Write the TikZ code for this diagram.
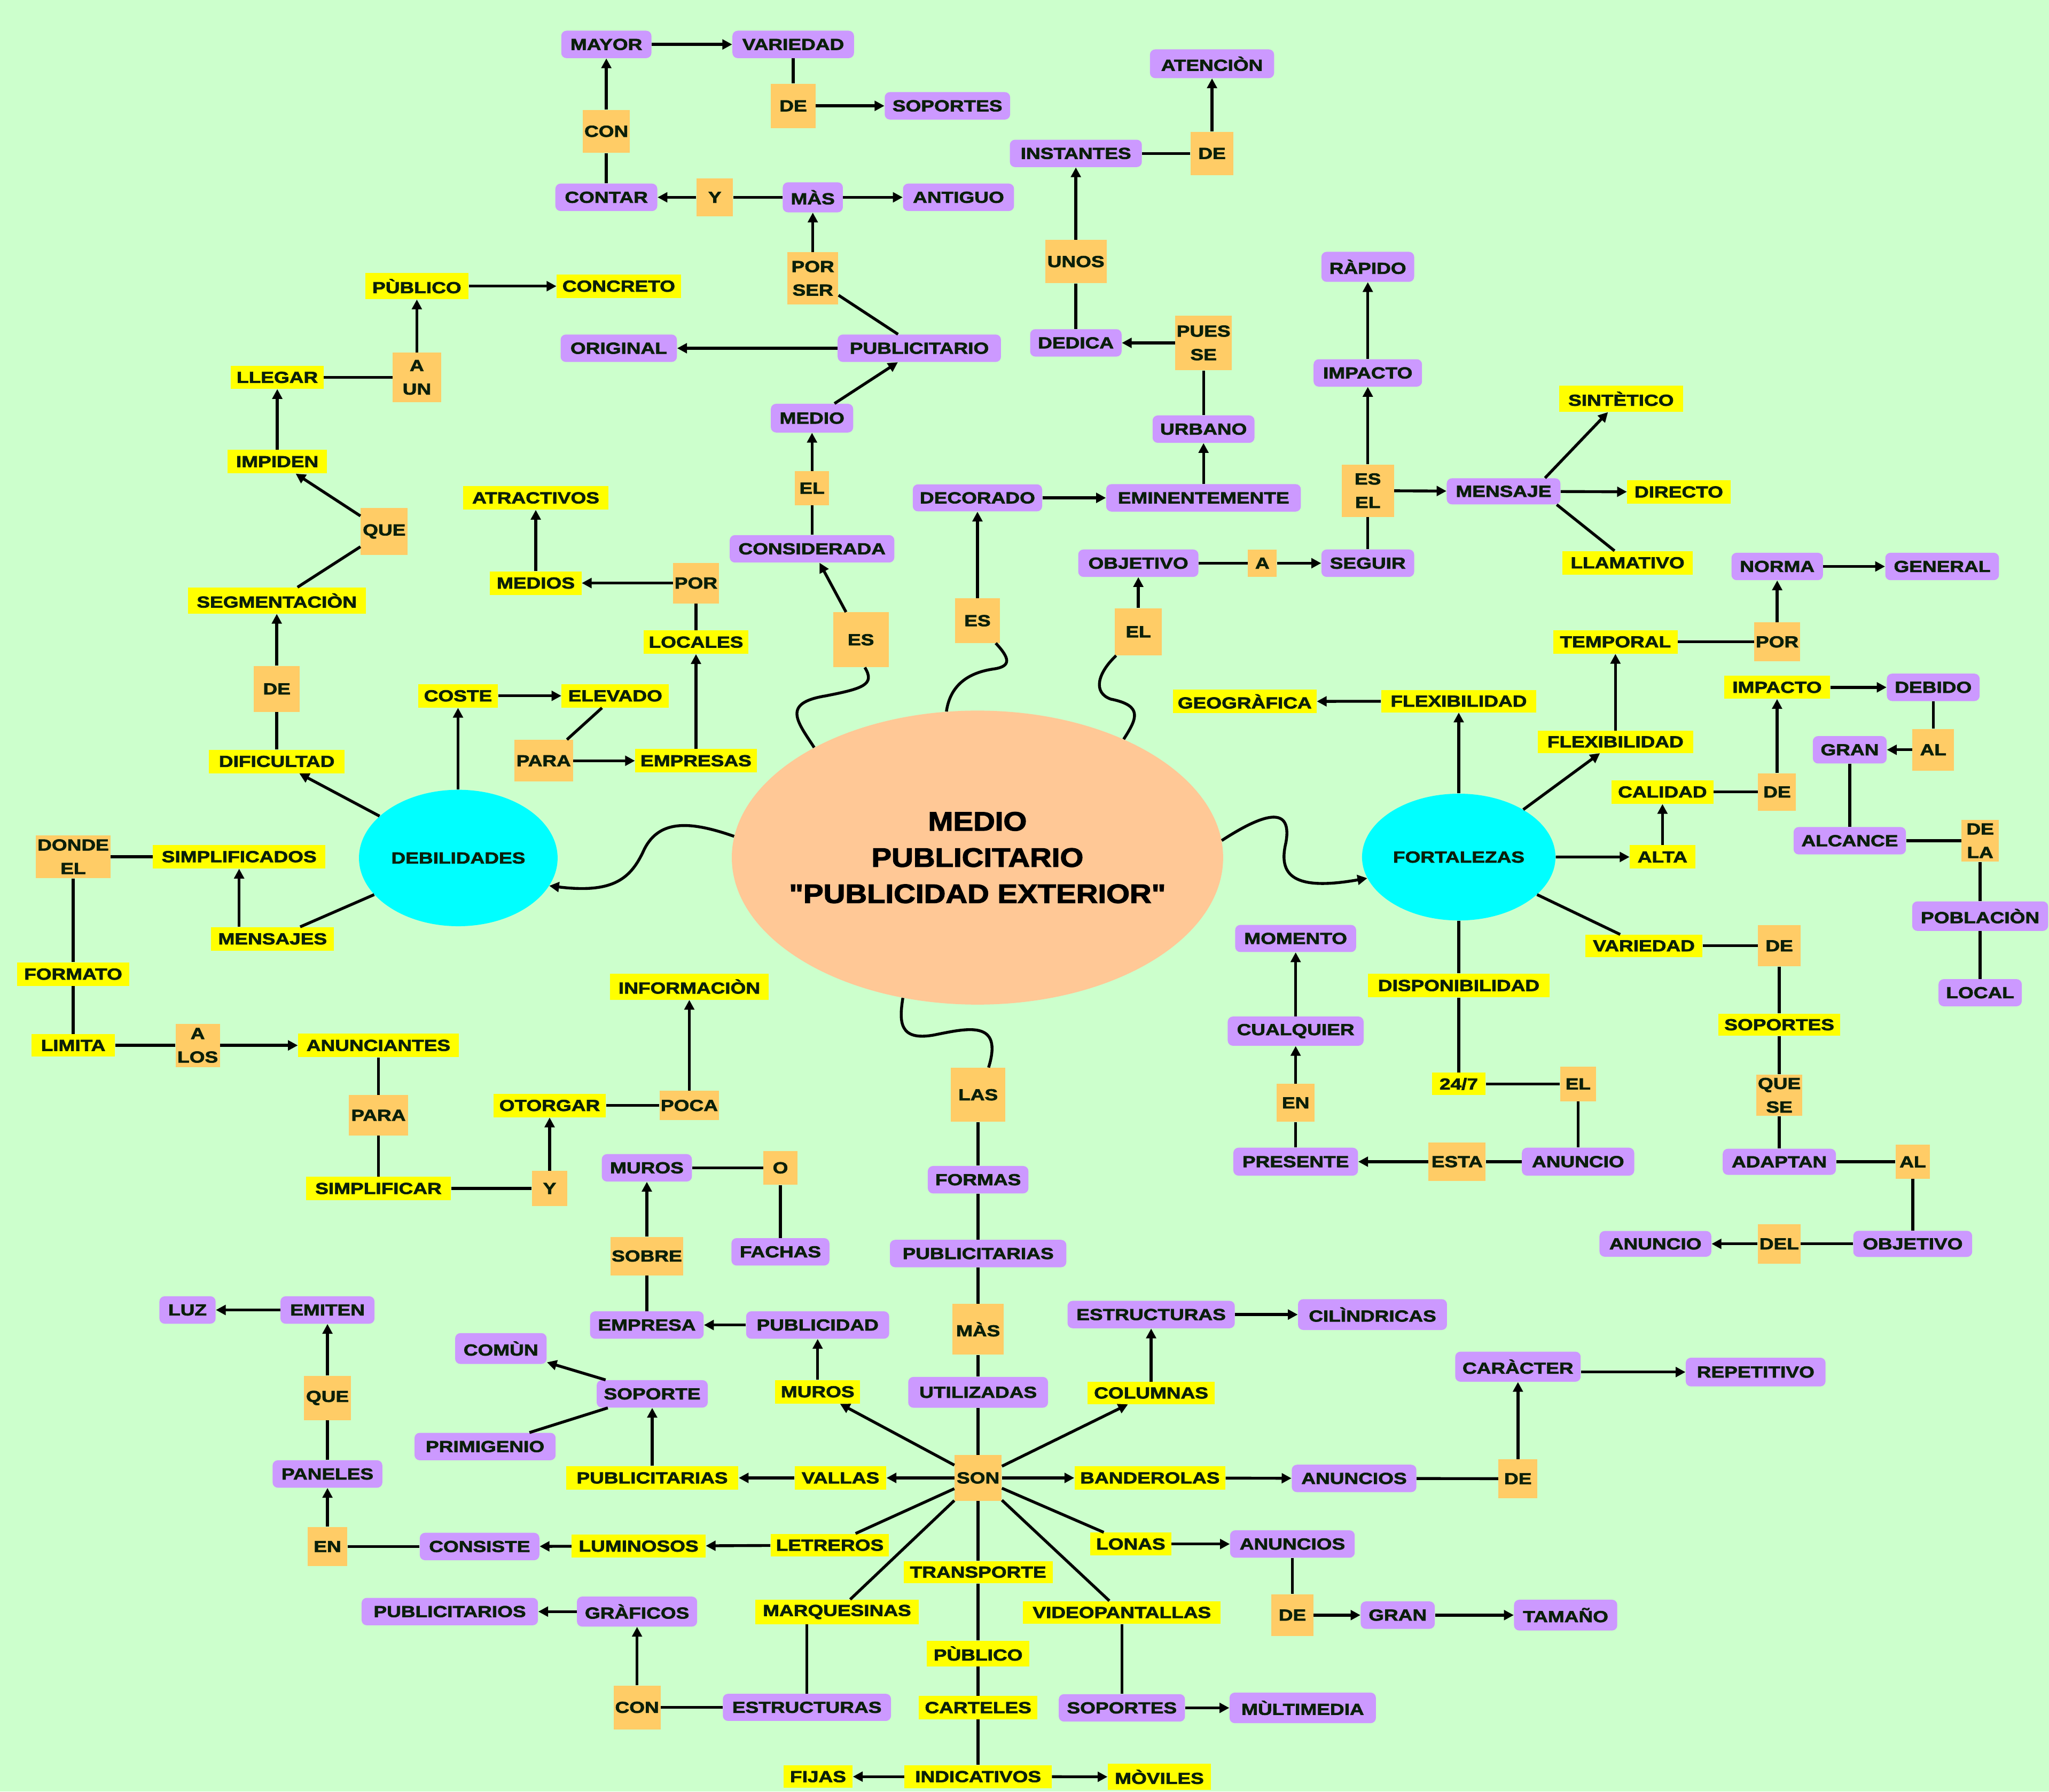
\documentclass[tikz,border=0pt]{standalone}
\usepackage{fontspec}
\newfontfamily\nf{Liberation Sans}[FakeStretch=1.24,FakeBold=2.5]
\newfontfamily\cf{Liberation Sans}[FakeStretch=1.13,FakeBold=2.5]
\usetikzlibrary{arrows.meta,shapes.geometric}
\definecolor{bg}{HTML}{CCFFCC}
\definecolor{purp}{HTML}{CC99FF}
\definecolor{orng}{HTML}{FFCC66}
\definecolor{yell}{HTML}{FFFF00}
\definecolor{cyanc}{HTML}{00FFFF}
\definecolor{peach}{HTML}{FFC896}
\definecolor{txt}{HTML}{0A1F0A}
\tikzset{
  base/.style={font=\nf\bfseries\fontsize{12.2}{18}\selectfont, text=txt, inner sep=1pt, align=center},
  pp/.style={base, fill=purp, rounded corners=4pt},
  oo/.style={base, fill=orng},
  yy/.style={base, fill=yell},
  cyanell/.style={ellipse, fill=cyanc, inner sep=0pt},
  ar/.style={line width=2.2pt, -{Triangle[length=7.5pt,width=7.5pt]}},
  ln/.style={line width=2.2pt},
}
\newcommand{\mkn}[7]{\node[#1, minimum width=#5pt, minimum height=#6pt] (#2) at (#3,#4) {#7};}
\begin{document}
\begin{tikzpicture}[x=1pt,y=-1pt]
\fill[bg] (0,0) rectangle (1568,1371);
\useasboundingbox (0,0) rectangle (1568,1371);

% central and main circles
\node[ellipse, fill=peach, minimum width=376pt, minimum height=225pt, inner sep=0pt] (main) at (748,656.3) {};
\node[font=\cf\bfseries\fontsize{20.4}{27.7}\selectfont, text=black, align=center] (maintext) at (main.center) {MEDIO\\PUBLICITARIO\\"PUBLICIDAD EXTERIOR"};
\node[base, cyanell, minimum width=152pt, minimum height=104.4pt] (debil) at (350.7,656.6) {DEBILIDADES};
\node[base, cyanell, minimum width=148pt, minimum height=97pt] (fort) at (1116.3,655.9) {FORTALEZAS};

% top
\mkn{pp}{mayor}{464}{34}{69}{21}{MAYOR}
\mkn{pp}{variedad}{607}{34}{93}{21}{VARIEDAD}
\mkn{oo}{deA}{607}{81}{34}{34}{DE}
\mkn{pp}{soportesA}{725}{81}{96}{21}{SOPORTES}
\mkn{oo}{con}{464}{100.5}{36}{33}{CON}
\mkn{pp}{contar}{464}{151}{78}{21}{CONTAR}
\mkn{oo}{yA}{547}{151}{28}{29}{Y}
\mkn{pp}{mas}{622}{151}{46}{23}{MÀS}
\mkn{pp}{antiguo}{733.5}{151}{85}{21}{ANTIGUO}
\mkn{oo}{porser}{622}{213}{39}{40}{POR\\SER}
\mkn{pp}{publicitario}{703.5}{266.5}{125}{21}{PUBLICITARIO}
\mkn{pp}{original}{473.5}{266.5}{89}{21}{ORIGINAL}
\mkn{yy}{concreto}{473.5}{219}{95}{18}{CONCRETO}
\mkn{yy}{publico}{319}{219}{79}{20}{PÙBLICO}
\mkn{yy}{llegar}{212.2}{288.8}{71}{17.5}{LLEGAR}
\mkn{oo}{aun}{319}{288.8}{37}{38}{A\\UN}
\mkn{yy}{impiden}{212.2}{353.3}{76}{18}{IMPIDEN}
\mkn{yy}{atractivos}{410}{381}{111}{18}{ATRACTIVOS}
\mkn{oo}{que}{294}{406.7}{36}{36}{QUE}
\mkn{yy}{medios}{410}{446.2}{70}{18}{MEDIOS}
\mkn{oo}{porB}{532.6}{446.2}{35}{31}{POR}
\mkn{yy}{segm}{211.8}{459.6}{136}{20}{SEGMENTACIÒN}
\mkn{yy}{locales}{532.6}{491.4}{80}{18}{LOCALES}
\mkn{oo}{deB}{211.8}{527.2}{35}{35}{DE}
\mkn{yy}{coste}{350.5}{532.5}{61}{18}{COSTE}
\mkn{yy}{elevado}{470.8}{532.5}{82}{18}{ELEVADO}
\mkn{oo}{paraA}{416}{582.2}{45}{32}{PARA}
\mkn{yy}{empresas}{532.6}{582.2}{93}{18}{EMPRESAS}
\mkn{yy}{dificultad}{211.8}{582.7}{104}{18}{DIFICULTAD}
\mkn{pp}{medio}{621.4}{320}{63}{22}{MEDIO}
\mkn{oo}{elA}{621.4}{373.6}{26}{26}{EL}
\mkn{pp}{considerada}{621.4}{420}{126}{21}{CONSIDERADA}
\mkn{oo}{esA}{658.8}{489.6}{42.4}{42}{ES}
\mkn{oo}{esB}{748}{475}{34}{34}{ES}
\mkn{pp}{decorado}{748}{381}{99}{20.7}{DECORADO}
\mkn{oo}{elB}{871.1}{483.5}{36}{36}{EL}
\mkn{pp}{eminent}{921}{381}{149}{21}{EMINENTEMENTE}
\mkn{pp}{urbano}{921}{328.4}{78}{21}{URBANO}
\mkn{oo}{pues}{921}{262.4}{43}{42}{PUES\\SE}
\mkn{pp}{dedica}{823.3}{262.4}{70}{21}{DEDICA}
\mkn{oo}{unos}{823.3}{200.2}{47}{33}{UNOS}
\mkn{pp}{instantes}{823.3}{117.4}{101}{21}{INSTANTES}
\mkn{oo}{deC}{927.5}{117.4}{33}{33}{DE}
\mkn{pp}{atencion}{927.5}{48.8}{95}{22}{ATENCIÒN}
\mkn{pp}{objetivoA}{871.1}{431}{92}{21}{OBJETIVO}
\mkn{oo}{aA}{966}{431}{22}{21}{A}
\mkn{pp}{seguir}{1046.7}{431}{71}{21}{SEGUIR}
\mkn{oo}{esel}{1046.7}{375.5}{40}{40}{ES\\EL}
\mkn{pp}{impactoA}{1046.7}{285.4}{83}{21}{IMPACTO}
\mkn{pp}{rapido}{1046.7}{204.2}{71}{23}{RÀPIDO}
\mkn{pp}{mensaje}{1150.6}{376}{87}{20}{MENSAJE}
\mkn{yy}{sintetico}{1240.5}{305.2}{95}{20}{SINTÈTICO}
\mkn{yy}{directo}{1284.7}{376.5}{79}{18}{DIRECTO}
\mkn{yy}{llamativo}{1245.5}{430.7}{100}{18}{LLAMATIVO}

% right
\mkn{pp}{norma}{1360}{433.5}{70}{21}{NORMA}
\mkn{pp}{general}{1486.2}{433.5}{87}{21}{GENERAL}
\mkn{yy}{temporal}{1236.2}{491.2}{95}{18}{TEMPORAL}
\mkn{oo}{porC}{1360}{491.2}{35}{30}{POR}
\mkn{yy}{impactoB}{1359.9}{526}{81}{17.5}{IMPACTO}
\mkn{pp}{debido}{1479.4}{526}{71}{21}{DEBIDO}
\mkn{yy}{flexR}{1236.2}{567.7}{119}{17}{FLEXIBILIDAD}
\mkn{oo}{alA}{1479.4}{573.8}{32}{32}{AL}
\mkn{pp}{gran}{1415.5}{573.8}{56.5}{21}{GRAN}
\mkn{yy}{calidad}{1272.2}{606.1}{78}{18}{CALIDAD}
\mkn{oo}{deD}{1359.9}{606.1}{29}{28.5}{DE}
\mkn{pp}{alcance}{1415.5}{643.4}{86}{21}{ALCANCE}
\mkn{oo}{dela}{1515.3}{643.4}{28.6}{32}{DE\\LA}
\mkn{yy}{alta}{1272.2}{655.8}{50}{18}{ALTA}
\mkn{pp}{poblacion}{1515.3}{701.1}{104}{22.6}{POBLACIÒN}
\mkn{yy}{variedadY}{1258}{723.8}{89.5}{17}{VARIEDAD}
\mkn{oo}{deE}{1361.6}{723.8}{32.5}{31.4}{DE}
\mkn{pp}{local}{1515.3}{759.7}{63.7}{20.8}{LOCAL}
\mkn{yy}{soportesY}{1361.6}{784.2}{93.5}{17}{SOPORTES}
\mkn{oo}{elC}{1207.6}{829.5}{27.6}{26.6}{EL}
\mkn{oo}{quese}{1361.6}{838.2}{35.4}{31.7}{QUE\\SE}
\mkn{pp}{anuncioA}{1207.6}{889}{86}{21.4}{ANUNCIO}
\mkn{pp}{adaptan}{1361.6}{889.1}{86.6}{20}{ADAPTAN}
\mkn{oo}{alB}{1463.7}{889.1}{26.4}{26}{AL}
\mkn{pp}{anuncioB}{1266.8}{951.9}{85.6}{19.7}{ANUNCIO}
\mkn{oo}{del}{1361.5}{951.9}{32.7}{30.3}{DEL}
\mkn{pp}{objetivoB}{1463.7}{951.9}{91}{20}{OBJETIVO}
\mkn{yy}{geografica}{952.5}{536.8}{110}{18}{GEOGRÀFICA}
\mkn{yy}{flexT}{1116.3}{536.6}{118.8}{17}{FLEXIBILIDAD}
\mkn{pp}{momento}{991.5}{718.2}{92.6}{20.8}{MOMENTO}
\mkn{yy}{disponib}{1116.3}{754.2}{138.7}{18.2}{DISPONIBILIDAD}
\mkn{pp}{cualquier}{991.5}{789.1}{104}{22.4}{CUALQUIER}
\mkn{yy}{h247}{1116.3}{829.5}{40.9}{17.2}{24/7}
\mkn{oo}{en}{991.5}{844}{29.2}{29}{EN}
\mkn{pp}{presente}{991.5}{889}{95.4}{21.4}{PRESENTE}
\mkn{oo}{esta}{1115}{889}{43.8}{29.7}{ESTA}

% left middle
\mkn{oo}{dondeel}{56}{655.6}{57}{33}{DONDE\\EL}
\mkn{yy}{simplificados}{183}{655.6}{132}{18}{SIMPLIFICADOS}
\mkn{yy}{mensajes}{208.6}{718.5}{94}{18}{MENSAJES}
\mkn{yy}{formato}{56}{745.5}{86}{18}{FORMATO}
\mkn{yy}{limita}{56}{800}{64}{17}{LIMITA}
\mkn{oo}{alos}{151.3}{800}{34}{33}{A\\LOS}
\mkn{yy}{anunciantes}{289.6}{800}{123}{18}{ANUNCIANTES}
\mkn{yy}{informacion}{527.5}{755}{121}{20}{INFORMACIÒN}
\mkn{oo}{paraB}{289.6}{853.5}{45}{31}{PARA}
\mkn{yy}{otorgar}{420.6}{846}{86}{18}{OTORGAR}
\mkn{oo}{poca}{527.5}{846}{45}{22.4}{POCA}
\mkn{pp}{murosP}{495}{893.7}{69}{21}{MUROS}
\mkn{yy}{simplificar}{289.6}{909.5}{111}{18}{SIMPLIFICAR}
\mkn{oo}{yB}{420.6}{909.5}{27}{27}{Y}
\mkn{oo}{oA}{597.2}{893.7}{26}{26}{O}
\mkn{oo}{sobre}{495}{961.2}{54}{29.4}{SOBRE}
\mkn{pp}{fachas}{597.2}{958}{75}{21}{FACHAS}

% bottom
\mkn{oo}{las}{748.5}{837.8}{41.6}{41.3}{LAS}
\mkn{pp}{formas}{748.5}{902.8}{77}{21}{FORMAS}
\mkn{pp}{publicitariasP}{748.5}{959.3}{135}{21}{PUBLICITARIAS}
\mkn{oo}{masB}{748.5}{1017.3}{39}{39}{MÀS}
\mkn{pp}{utilizadas}{748.5}{1065.5}{107}{23.6}{UTILIZADAS}
\mkn{oo}{son}{748.5}{1131}{36}{35}{SON}
\mkn{pp}{emiten}{250.6}{1002.5}{72}{21}{EMITEN}
\mkn{pp}{luz}{143.5}{1002.5}{43}{21}{LUZ}
\mkn{pp}{empresa}{495}{1014}{87}{21}{EMPRESA}
\mkn{pp}{publicidad}{625.7}{1014}{109.5}{21}{PUBLICIDAD}
\mkn{pp}{comun}{383.3}{1032}{70}{23.6}{COMÙN}
\mkn{oo}{queB}{250.6}{1069.8}{36}{34}{QUE}
\mkn{pp}{soporte}{499.1}{1066.7}{85}{21}{SOPORTE}
\mkn{yy}{murosY}{625.7}{1065.1}{65}{18}{MUROS}
\mkn{pp}{primigenio}{371.2}{1107}{108}{21}{PRIMIGENIO}
\mkn{pp}{paneles}{250.6}{1128}{84}{21}{PANELES}
\mkn{yy}{publicitariasY}{499.1}{1131}{132}{18}{PUBLICITARIAS}
\mkn{yy}{vallas}{643.2}{1131}{70}{18}{VALLAS}
\mkn{oo}{enB}{250.6}{1183.5}{30.5}{30}{EN}
\mkn{pp}{consiste}{367}{1183.5}{91.5}{21}{CONSISTE}
\mkn{yy}{luminosos}{488.7}{1183.2}{102.4}{17.8}{LUMINOSOS}
\mkn{yy}{letreros}{635}{1182.5}{90.7}{17.5}{LETREROS}
\mkn{yy}{transporte}{748.5}{1203.1}{114}{17}{TRANSPORTE}
\mkn{pp}{publicitarios}{344.2}{1233.3}{135}{21}{PUBLICITARIOS}
\mkn{pp}{graficos}{487.5}{1233.3}{92}{23}{GRÀFICOS}
\mkn{yy}{marquesinas}{640.5}{1233.6}{125}{18.8}{MARQUESINAS}
\mkn{yy}{publicoB}{748.5}{1265.4}{78.6}{19.8}{PÙBLICO}
\mkn{oo}{conB}{487.5}{1306.6}{36}{33.5}{CON}
\mkn{pp}{estructurasB}{617.5}{1306.6}{128.7}{20.8}{ESTRUCTURAS}
\mkn{yy}{carteles}{748.5}{1306.8}{90.7}{17.8}{CARTELES}
\mkn{yy}{fijas}{626}{1359.6}{53}{17.3}{FIJAS}
\mkn{yy}{indicativos}{748.5}{1359.6}{112.6}{17.5}{INDICATIVOS}
\mkn{pp}{estructurasA}{880.9}{1006}{128}{21}{ESTRUCTURAS}
\mkn{pp}{cilindricas}{1050.3}{1006}{114}{23.6}{CILÌNDRICAS}
\mkn{pp}{caracter}{1161.6}{1045.9}{96}{23}{CARÀCTER}
\mkn{pp}{repetitivo}{1343.5}{1050}{107}{22}{REPETITIVO}
\mkn{yy}{columnas}{880.9}{1066}{97.4}{17}{COLUMNAS}
\mkn{yy}{banderolas}{880}{1131}{115.4}{17.8}{BANDEROLAS}
\mkn{pp}{anunciosA}{1036.2}{1131.4}{95.4}{21}{ANUNCIOS}
\mkn{oo}{deF}{1161.6}{1131.6}{29.7}{29.7}{DE}
\mkn{yy}{lonas}{865.3}{1181.6}{61.8}{17.5}{LONAS}
\mkn{pp}{anunciosB}{989}{1181.6}{95.4}{21}{ANUNCIOS}
\mkn{yy}{video}{858.5}{1234}{151.3}{17.5}{VIDEOPANTALLAS}
\mkn{oo}{deG}{989}{1236}{32}{32}{DE}
\mkn{pp}{granB}{1069.6}{1236}{56.7}{21}{GRAN}
\mkn{pp}{tamano}{1198.1}{1236}{79}{23.6}{TAMAÑO}
\mkn{pp}{soportesB}{858.5}{1307}{96.6}{21}{SOPORTES}
\mkn{pp}{multimedia}{996.9}{1307}{112}{23.4}{MÙLTIMEDIA}
\mkn{yy}{moviles}{887.2}{1359.8}{79}{20}{MÒVILES}

% ---------- curves from the centre ----------
\draw[ar] (main.175) .. controls (530,629) and (505,626) .. (493,650) .. controls (483,672) and (470,684) .. (debil.-17);
\draw[ar] (main.4.5) .. controls (960,627) and (990,612) .. (984,645) .. controls (978,670) and (990,682) .. (fort.193);
\draw[ln] (main.146) .. controls (610,552) and (598,538) .. (632,532.5) .. controls (660,527) and (670,524) .. ([xshift=3pt]esA.south);
\draw[ln] (main.102) .. controls (727,525) and (740,515) .. (760,512) .. controls (775,510) and (772,503) .. ([xshift=14pt]esB.south);
\draw[ln] (main.39) .. controls (870,550) and (875,540) .. (850,535) .. controls (836,530) and (840,515) .. ([xshift=-17pt]elB.south);
\draw[ln] (main.-118) .. controls (688,782) and (688,797) .. (715,792) .. controls (740,787) and (768,780) .. ([xshift=8pt]las.north);

% ---------- top ----------
\draw[ar] (mayor) -- (variedad);
\draw[ln] (variedad) -- (deA);
\draw[ar] (deA) -- (soportesA);
\draw[ln] (contar) -- (con);
\draw[ar] (con) -- (mayor);
\draw[ln] (mas) -- (yA);
\draw[ar] (yA) -- (contar);
\draw[ar] (mas) -- (antiguo);
\draw[ar] (porser) -- (mas);
\draw[ln] (publicitario) -- (porser);
\draw[ar] (publicitario) -- (original);
\draw[ar] (medio) -- (publicitario);
\draw[ln] (considerada) -- (elA);
\draw[ar] (elA) -- (medio);
\draw[ar] (esA) -- (considerada);
\draw[ar] (esB) -- (decorado);
\draw[ar] (decorado) -- (eminent);
\draw[ar] (eminent) -- (urbano);
\draw[ln] (urbano) -- (pues);
\draw[ar] (pues) -- (dedica);
\draw[ln] (dedica) -- (unos);
\draw[ar] (unos) -- (instantes);
\draw[ln] (instantes) -- (deC);
\draw[ar] (deC) -- (atencion);
\draw[ar] (elB) -- (objetivoA);
\draw[ln] (objetivoA) -- (aA);
\draw[ar] (aA) -- (seguir);
\draw[ln] (seguir) -- (esel);
\draw[ar] (esel) -- (impactoA);
\draw[ar] (impactoA) -- (rapido);
\draw[ar] (esel) -- (mensaje);
\draw[ar] ([xshift=-12pt]mensaje.north east) -- ([xshift=-10pt]sintetico.south);
\draw[ar] (mensaje) -- (directo);
\draw[ln] ([xshift=-3pt]mensaje.south east) -- ([xshift=-10pt]llamativo.north);

% ---------- upper left ----------
\draw[ar] (debil) -- (dificultad);
\draw[ln] (dificultad) -- (deB);
\draw[ar] (deB) -- (segm);
\draw[ln] (segm) -- (que);
\draw[ar] (que) -- (impiden);
\draw[ar] (impiden) -- (llegar);
\draw[ln] (llegar) -- (aun);
\draw[ar] (aun) -- (publico);
\draw[ar] (publico) -- (concreto);
\draw[ar] (coste.south |- debil.north) -- (coste.south);
\draw[ar] (coste) -- (elevado);
\draw[ln] (elevado) -- (paraA);
\draw[ar] (paraA) -- (empresas);
\draw[ar] (empresas) -- (locales);
\draw[ln] (locales) -- (porB);
\draw[ar] (porB) -- (medios);
\draw[ar] (medios) -- (atractivos);

% ---------- left middle ----------
\draw[ln] (debil) -- (mensajes);
\draw[ar] (simplificados.south |- mensajes.north) -- (simplificados.south);
\draw[ln] (simplificados) -- (dondeel);
\draw[ln] (dondeel) -- (formato);
\draw[ln] (formato) -- (limita);
\draw[ln] (limita) -- (alos);
\draw[ar] (alos) -- (anunciantes);
\draw[ln] (anunciantes) -- (paraB);
\draw[ln] (paraB) -- (simplificar);
\draw[ln] (simplificar) -- (yB);
\draw[ar] (yB) -- (otorgar);
\draw[ln] (otorgar) -- (poca);
\draw[ar] (poca) -- (informacion);
\draw[ln] (murosP) -- (oA);
\draw[ln] (oA) -- (fachas);
\draw[ar] (sobre) -- (murosP);
\draw[ln] (empresa) -- (sobre);

% ---------- bottom ----------
\draw[ln] (las) -- (formas);
\draw[ln] (formas) -- (publicitariasP);
\draw[ln] (publicitariasP) -- (masB);
\draw[ln] (masB) -- (utilizadas);
\draw[ln] (utilizadas) -- (son);
\draw[ar] (publicidad) -- (empresa);
\draw[ar] (murosY) -- (publicidad);
\draw[ar] (son) -- (murosY);
\draw[ar] (son) -- (vallas);
\draw[ar] (vallas) -- (publicitariasY);
\draw[ar] (publicitariasY) -- (soporte);
\draw[ar] (soporte) -- (comun);
\draw[ln] (soporte) -- (primigenio);
\draw[ln] (son) -- (letreros);
\draw[ar] (letreros) -- (luminosos);
\draw[ar] (luminosos) -- (consiste);
\draw[ln] (consiste) -- (enB);
\draw[ar] (enB) -- (paneles);
\draw[ln] (paneles) -- (queB);
\draw[ar] (queB) -- (emiten);
\draw[ar] (emiten) -- (luz);
\draw[ln] (son) -- (marquesinas);
\draw[ln] (estructurasB.north |- marquesinas.south) -- (estructurasB.north);
\draw[ln] (estructurasB) -- (conB);
\draw[ar] (conB) -- (graficos);
\draw[ar] (graficos) -- (publicitarios);
\draw[ln] (son) -- (transporte);
\draw[ln] (transporte) -- (publicoB);
\draw[ln] (publicoB) -- (carteles);
\draw[ln] (carteles) -- (indicativos);
\draw[ar] (indicativos) -- (fijas);
\draw[ar] (indicativos) -- (moviles);
\draw[ar] (son) -- (columnas);
\draw[ar] (columnas) -- (estructurasA);
\draw[ar] (estructurasA) -- (cilindricas);
\draw[ar] (son) -- (banderolas);
\draw[ar] (banderolas) -- (anunciosA);
\draw[ln] (anunciosA) -- (deF);
\draw[ar] (deF) -- (caracter);
\draw[ar] (caracter.east |- repetitivo.west) -- (repetitivo.west);
\draw[ln] (son) -- (lonas);
\draw[ar] (lonas) -- (anunciosB);
\draw[ln] (anunciosB) -- (deG);
\draw[ar] (deG) -- (granB);
\draw[ar] (granB) -- (tamano);
\draw[ln] (son) -- (video);
\draw[ln] (video) -- (soportesB);
\draw[ar] (soportesB) -- (multimedia);

% ---------- right ----------
\draw[ar] (fort) -- (flexT);
\draw[ar] (flexT) -- (geografica);
\draw[ar] (fort) -- (flexR);
\draw[ar] (flexR) -- (temporal);
\draw[ln] (temporal) -- (porC);
\draw[ar] (porC) -- (norma);
\draw[ar] (norma) -- (general);
\draw[ar] (fort) -- (alta);
\draw[ar] (alta) -- (calidad);
\draw[ln] (calidad) -- (deD);
\draw[ar] (deD) -- (impactoB);
\draw[ar] (impactoB) -- (debido);
\draw[ln] (debido) -- (alA);
\draw[ar] (alA) -- (gran);
\draw[ln] (gran) -- (alcance);
\draw[ln] (alcance) -- (dela);
\draw[ln] (dela) -- (poblacion);
\draw[ln] (poblacion) -- (local);
\draw[ln] (fort) -- (variedadY);
\draw[ln] (variedadY) -- (deE);
\draw[ln] (deE) -- (soportesY);
\draw[ln] (soportesY) -- (quese);
\draw[ln] (quese) -- (adaptan);
\draw[ln] (adaptan) -- (alB);
\draw[ln] (alB) -- (objetivoB);
\draw[ln] (objetivoB) -- (del);
\draw[ar] (del) -- (anuncioB);
\draw[ln] (fort) -- (disponib);
\draw[ln] (disponib) -- (h247);
\draw[ln] (h247) -- (elC);
\draw[ln] (elC) -- (anuncioA);
\draw[ln] (anuncioA) -- (esta);
\draw[ar] (esta) -- (presente);
\draw[ln] (presente) -- (en);
\draw[ar] (en) -- (cualquier);
\draw[ar] (cualquier) -- (momento);
\end{tikzpicture}
\end{document}
